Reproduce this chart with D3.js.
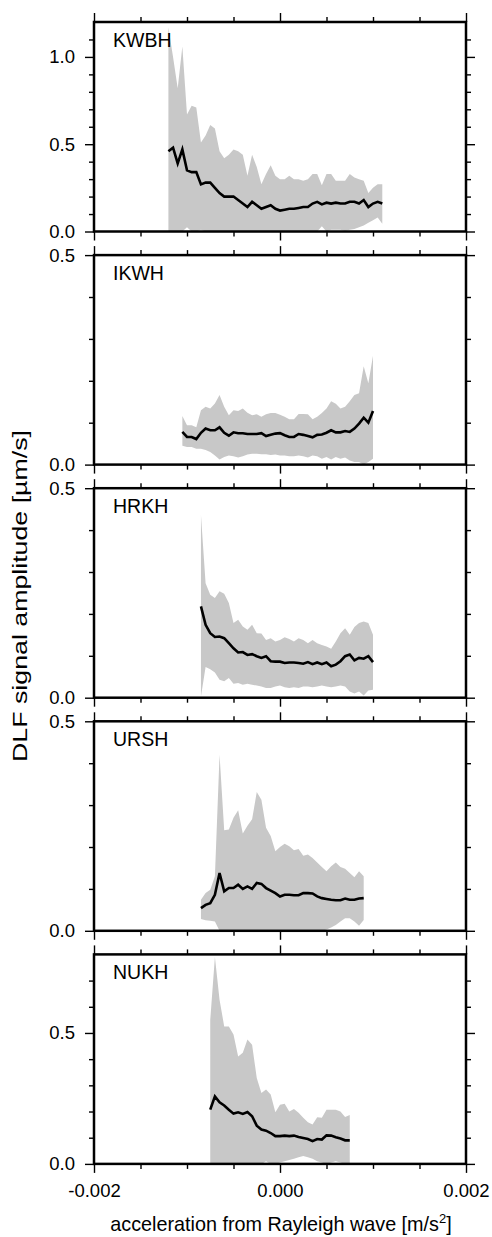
<!DOCTYPE html>
<html>
<head>
<meta charset="utf-8">
<style>
  body { margin: 0; background: white; }
  svg { display: block; font-family: "Liberation Sans", Arial, sans-serif; }
  .tick line { stroke: black; stroke-width: 1.4; }
</style>
</head>
<body>
<svg width="492" height="1237"></svg>
<script src="https://d3js.org/d3.v7.min.js"></script>
<script>
// stations, top to bottom
const stations = ["KWBH", "IKWH", "HRKH", "URSH", "NUKH"];
// first acceleration bin of each station, bins are STEP wide
const xStart = [-0.0012, -0.00105, -0.00085, -0.00085, -0.00075];
const STEP = 0.00005;
const yMax = [1.2, 0.5, 0.5, 0.5, 0.8];
const yMajor = [[0, 0.5, 1.0], [0, 0.5], [0, 0.5], [0, 0.5], [0, 0.5]];
const yLabels = [["0.0", "0.5", "1.0"], ["0.0", "0.5"], ["0.0", "0.5"], ["0.0", "0.5"], ["0.0", "0.5"]];
const xMajor = [-0.002, 0, 0.002];
const xMinor = [-0.0015, -0.001, -0.0005, 0.0005, 0.001, 0.0015];
const xTickLabels = ["-0.002", "0.000", "0.002"];

const kwbhMean = [0.46,0.48,0.39,0.47,0.35,0.34,0.34,0.27,0.28,0.28, 0.25,0.22,0.2,0.2,0.2,0.18,0.16,0.14,0.17,0.15,
  0.13,0.14,0.15,0.13,0.12,0.125,0.13,0.13,0.135,0.14, 0.14,0.16,0.17,0.155,0.165,0.16,0.165,0.16,0.16,0.17,
  0.17,0.16,0.18,0.14,0.16,0.17,0.16];
const kwbhUpper = [1.17,1.0,0.82,1.06,0.67,0.72,0.71,0.51,0.55,0.61, 0.59,0.46,0.42,0.44,0.47,0.46,0.44,0.32,0.44,0.37,
  0.27,0.33,0.38,0.32,0.30,0.30,0.32,0.30,0.30,0.29, 0.30,0.33,0.33,0.265,0.33,0.33,0.29,0.29,0.29,0.33,
  0.31,0.30,0.29,0.22,0.25,0.27,0.27];
const kwbhLower = [0,0,0,0,0.025,0,0,0.01,0,0, 0,0,0,0,0,0,0,0,0,0,
  0,0,0,0,0,0,0,0,0,0, 0,0,0,0.03,0,0.01,0.01,0.01,0.005,0.01,
  0.015,0.025,0.035,0.05,0.065,0.08,0.045];

const ikwhMean = [0.078,0.066,0.066,0.061,0.076,0.086,0.082,0.082,0.089,0.076, 0.069,0.077,0.075,0.075,0.073,0.073,0.073,0.075,0.068,0.071,
  0.074,0.075,0.07,0.066,0.066,0.073,0.071,0.068,0.065,0.071, 0.072,0.076,0.082,0.077,0.077,0.08,0.078,0.086,0.098,0.112,
  0.1,0.128];
const ikwhUpper = [0.116,0.094,0.094,0.089,0.13,0.138,0.134,0.146,0.166,0.138, 0.118,0.13,0.128,0.134,0.124,0.118,0.12,0.114,0.12,0.123,
  0.123,0.119,0.114,0.108,0.108,0.121,0.121,0.12,0.108,0.114, 0.123,0.134,0.151,0.145,0.134,0.138,0.151,0.166,0.17,0.235,
  0.194,0.26];
const ikwhLower = [0.045,0.042,0.042,0.038,0.038,0.035,0.03,0.022,0.012,0.018, 0.022,0.02,0.017,0.02,0.024,0.026,0.026,0.025,0.025,0.023,
  0.024,0.022,0.022,0.02,0.02,0.022,0.02,0.017,0.022,0.02, 0.014,0.018,0.012,0.018,0.014,0.017,0.01,0.006,0.006,0,
  0.006,0.014];

const hrkhMean = [0.218,0.174,0.154,0.145,0.146,0.142,0.13,0.118,0.108,0.109, 0.102,0.104,0.099,0.095,0.099,0.087,0.086,0.086,0.083,0.084,
  0.084,0.083,0.081,0.085,0.08,0.084,0.08,0.084,0.075,0.079, 0.087,0.099,0.103,0.089,0.095,0.093,0.099,0.085];
const hrkhUpper = [0.436,0.273,0.246,0.238,0.254,0.248,0.226,0.178,0.186,0.17, 0.162,0.174,0.154,0.153,0.138,0.142,0.134,0.138,0.144,0.14,
  0.134,0.142,0.138,0.13,0.138,0.13,0.126,0.122,0.117,0.134, 0.154,0.166,0.15,0.169,0.178,0.182,0.178,0.15];
const hrkhLower = [0.003,0.073,0.068,0.06,0.043,0.039,0.047,0.033,0.035,0.031, 0.033,0.031,0.029,0.027,0.023,0.023,0.027,0.029,0.025,0.023,
  0.025,0.023,0.027,0.027,0.025,0.027,0.029,0.027,0.025,0.027, 0.029,0.027,0.015,0.01,0.015,0.005,0.017,0.019];

const urshMean = [0.054,0.062,0.066,0.086,0.138,0.094,0.102,0.102,0.11,0.1, 0.106,0.1,0.114,0.112,0.102,0.096,0.09,0.082,0.086,0.086,
  0.085,0.085,0.09,0.09,0.089,0.082,0.078,0.076,0.074,0.073, 0.073,0.077,0.074,0.074,0.077,0.078];
const urshUpper = [0.074,0.09,0.098,0.13,0.42,0.24,0.242,0.27,0.288,0.232, 0.251,0.266,0.331,0.313,0.246,0.226,0.19,0.2,0.208,0.202,
  0.192,0.195,0.179,0.182,0.174,0.163,0.152,0.142,0.154,0.163, 0.152,0.148,0.138,0.128,0.142,0.13];
const urshLower = [0.028,0.025,0.024,0.022,0,0,0,0,0,0, 0,0,0,0,0,0,0,0,0,0,
  0,0,0,0,0,0, 0,0.003,0.008,0.014, 0.022,0.03,0.03,0.022,0.012,0.026];

const nukhMean = [0.207,0.258,0.235,0.223,0.207,0.192,0.197,0.191,0.198,0.182, 0.146,0.131,0.127,0.118,0.106,0.106,0.108,0.106,0.108,0.103,
  0.099,0.095,0.087,0.095,0.093,0.109,0.108,0.102,0.097,0.09, 0.09];
const nukhUpper = [0.55,0.79,0.627,0.525,0.525,0.494,0.41,0.424,0.475,0.455, 0.328,0.271,0.284,0.265,0.197,0.226,0.23,0.2,0.21,0.195,
  0.176,0.159,0.15,0.178,0.176,0.207,0.207,0.207,0.2,0.179, 0.187];
const nukhLower = [0,0,0,0,0,0,0,0,0,0, 0,0,0.01,0,0,0.005,0.01,0.015,0.02,0.025,
  0.03,0.025,0.02,0.01,0.005,0,0.005,0.01,0.005,0, 0];

const means = [kwbhMean, ikwhMean, hrkhMean, urshMean, nukhMean];
const uppers = [kwbhUpper, ikwhUpper, hrkhUpper, urshUpper, nukhUpper];
const lowers = [kwbhLower, ikwhLower, hrkhLower, urshLower, nukhLower];

let svg = d3.select("svg");
let left = 94, right = 466;
let panelH = 209.5, panelGap = 233.1, firstTop = 22;

let x = d3.scaleLinear().domain([-0.002, 0.002]).range([left, right]);

stations.forEach((name, i) => {
  let top = firstTop + i * panelGap;
  let g = svg.append("g").attr("transform", `translate(0,${top})`);
  let y = d3.scaleLinear().domain([0, yMax[i]]).range([panelH, 0]);

  let rows = means[i].map((m, j) => ({
    x: xStart[i] + j * STEP, mean: m, hi: uppers[i][j], lo: lowers[i][j]
  }));

  g.append("clipPath").attr("id", "clip" + i)
    .append("rect").attr("x", left).attr("y", 0).attr("width", right - left).attr("height", panelH);

  let plot = g.append("g").attr("clip-path", `url(#clip${i})`);

  plot.append("path")
    .datum(rows)
    .attr("fill", "#c8c8c8")
    .attr("d", d3.area().x(d => x(d.x)).y0(d => y(d.lo)).y1(d => y(d.hi)));

  plot.append("path")
    .datum(rows)
    .attr("fill", "none")
    .attr("stroke", "black")
    .attr("stroke-width", 2.6)
    .attr("stroke-linejoin", "miter")
    .attr("d", d3.line().x(d => x(d.x)).y(d => y(d.mean)));

  // ticks on all four sides, pointing out
  let yMinor = d3.range(1, Math.round(yMax[i] * 10)).map(v => v / 10).filter(v => Math.abs(v - 0.5) > 1e-6 && Math.abs(v - 1.0) > 1e-6);

  let axes = [
    g.append("g").attr("transform", `translate(0,${panelH})`)
      .call(d3.axisBottom(x).tickValues(xMinor).tickSize(5).tickFormat("")),
    g.append("g").attr("transform", `translate(0,${panelH})`)
      .call(d3.axisBottom(x).tickValues(xMajor).tickSize(9).tickPadding(11)
        .tickFormat((d, k) => i === 4 ? xTickLabels[k] : "")),
    g.append("g").call(d3.axisTop(x).tickValues(xMinor).tickSize(5).tickFormat("")),
    g.append("g").call(d3.axisTop(x).tickValues(xMajor).tickSize(9).tickFormat("")),
    g.append("g").attr("transform", `translate(${left},0)`)
      .call(d3.axisLeft(y).tickValues(yMinor).tickSize(5).tickFormat("")),
    g.append("g").attr("transform", `translate(${left},0)`)
      .call(d3.axisLeft(y).tickValues(yMajor[i]).tickSize(9).tickPadding(10)
        .tickFormat((d, k) => yLabels[i][k])),
    g.append("g").attr("transform", `translate(${right},0)`)
      .call(d3.axisRight(y).tickValues(yMinor).tickSize(5).tickFormat("")),
    g.append("g").attr("transform", `translate(${right},0)`)
      .call(d3.axisRight(y).tickValues(yMajor[i]).tickSize(9).tickFormat(""))
  ];
  axes.forEach(a => {
    a.select(".domain").remove();
    a.selectAll("text").attr("fill", "black").style("font-size", "18.5px").style("font-family", "Liberation Sans, Arial, sans-serif");
  });

  g.append("rect")
    .attr("x", left).attr("y", 0)
    .attr("width", right - left).attr("height", panelH)
    .attr("fill", "none").attr("stroke", "black").attr("stroke-width", 2.5);

  g.append("text")
    .attr("x", 113).attr("y", 24.5)
    .style("font-size", "19.5px")
    .text(name);
});

svg.append("text")
  .attr("x", 281).attr("y", 1231)
  .attr("text-anchor", "middle")
  .style("font-size", "19.8px")
  .text("acceleration from Rayleigh wave [m/s")
  .call(t => t.append("tspan").attr("dy", -8).style("font-size", "13px").text("2"))
  .call(t => t.append("tspan").attr("dy", 8).text("]"));

svg.append("text")
  .attr("transform", "translate(27,596) rotate(-90)")
  .attr("text-anchor", "middle")
  .style("font-size", "21px")
  .attr("textLength", 332)
  .attr("lengthAdjust", "spacingAndGlyphs")
  .text("DLF signal amplitude [µm/s]");
</script>
</body>
</html>
